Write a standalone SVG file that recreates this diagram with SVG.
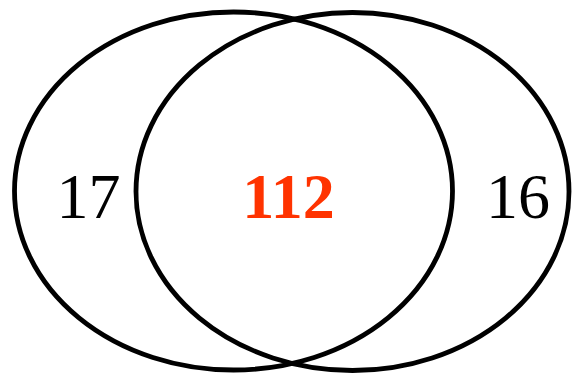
<svg xmlns="http://www.w3.org/2000/svg" width="574" height="378" viewBox="0 0 574 378">
<style>
.set{fill:none;stroke:#000;stroke-width:4.8}
.lbl{font-family:"Liberation Serif","Times New Roman",serif;font-size:64px;text-anchor:middle;fill:#000}
.mid{font-weight:bold;fill:#FF3300}
</style>
<rect width="574" height="378" fill="#fff"/>
<g id="setA"><ellipse class="set" cx="233.5" cy="191" rx="219" ry="179"/></g>
<g id="setB"><ellipse class="set" cx="352.5" cy="191.5" rx="216.5" ry="179"/></g>
<g id="labels">
<text class="lbl" x="88.5" y="218">17</text>
<text class="lbl mid" x="288.5" y="218">112</text>
<text class="lbl" x="518" y="218">16</text>
</g>
</svg>
